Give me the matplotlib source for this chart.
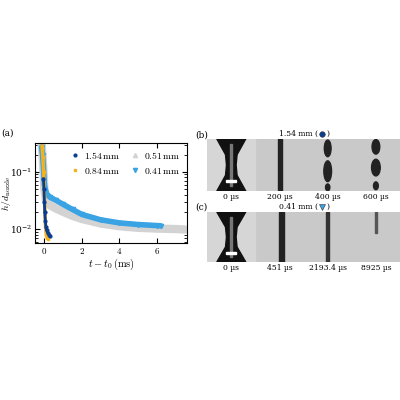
import numpy as np
import matplotlib
matplotlib.use("Agg")
import matplotlib.pyplot as plt
from matplotlib.patches import Ellipse, Rectangle, Polygon

plt.rcParams['mathtext.fontset'] = 'cm'
plt.rcParams['font.family'] = 'serif'
plt.rcParams['font.serif'] = ['DejaVu Serif']
plt.rcParams['font.size'] = 6

# thinning data h/d_nozzle vs t - t0 (ms)
t_154 = [-0.05, -0.02, 0.0, 0.02, 0.05, 0.08, 0.12, 0.18, 0.25, 0.3]
h_154 = [0.075, 0.05, 0.03, 0.02, 0.014, 0.011, 0.0095, 0.0085, 0.008, 0.0075]
t_084 = [-0.12, -0.08, -0.04, 0.0, 0.03, 0.06, 0.1, 0.15, 0.2]
h_084 = [0.28, 0.18, 0.1, 0.04, 0.02, 0.011, 0.008, 0.007, 0.0068]
t_051 = [-0.15, -0.1, -0.05, 0.0, 0.1, 0.3, 0.6, 1.0, 1.5, 2.0, 3.0, 4.0, 5.0, 6.0, 7.0, 7.5]
h_051 = [0.3, 0.2, 0.1, 0.05, 0.03, 0.026, 0.023, 0.02, 0.017, 0.015, 0.0125, 0.0112, 0.0105, 0.0102, 0.01, 0.0098]
t_041 = [-0.15, -0.1, -0.05, 0.0, 0.1, 0.3, 0.6, 1.0, 1.5, 2.0, 3.0, 4.0, 5.0, 6.0, 6.2]
h_041 = [0.27, 0.2, 0.12, 0.06, 0.042, 0.036, 0.032, 0.027, 0.022, 0.018, 0.0145, 0.0128, 0.012, 0.0115, 0.0114]

labels_b = ['0 µs', '200 µs', '400 µs', '600 µs']
labels_c = ['0 µs', '451 µs', '2193.4 µs', '8925 µs']

c154 = '#0a3d91'
c084 = '#f5b21b'
c051 = '#d3d3d3'
c041 = '#3aa3e3'

fig = plt.figure(figsize=(4, 4), dpi=100)
ax = fig.add_axes([0.0875, 0.3925, 0.38, 0.25])
l051, = ax.plot(t_051, h_051, color=c051, lw=6, marker='^', ms=3, solid_capstyle='round')
l041, = ax.plot(t_041, h_041, color=c041, lw=4, marker='v', ms=3, solid_capstyle='round')
l084, = ax.plot(t_084, h_084, color=c084, lw=2.5, marker='s', ms=2)
l154, = ax.plot(t_154, h_154, color=c154, lw=2, marker='o', ms=2)
ax.set_yscale('log')
ax.set_xlim(-0.5, 7.6)
ax.set_ylim(5.7e-3, 0.32)
ax.set_xticks([0, 2, 4, 6])
ax.set_xticklabels(['$0$', '$2$', '$4$', '$6$'])
ax.tick_params(which='both', direction='in', top=True, right=True, labelsize=6.5, pad=2)
ax.set_xlabel(r'$t-t_0\,(\mathrm{ms})$', fontsize=7.5, labelpad=1)
ax.set_ylabel(r'$h/d_\mathrm{nozzle}$', fontsize=7)
ax.yaxis.set_label_coords(-0.145, 0.5)
leg = ax.legend([l154, l084, l051, l041],
                [r'$1.54\,\mathrm{mm}$', r'$0.84\,\mathrm{mm}$', r'$0.51\,\mathrm{mm}$', r'$0.41\,\mathrm{mm}$'],
                ncol=2, loc='upper right', frameon=False, fontsize=7, handlelength=0.6,
                columnspacing=1.2, handletextpad=0.6, borderaxespad=0.3)
for lh in leg.get_lines():
    lh.set_linestyle('none')
fig.text(0.003, 0.66, '(a)', fontsize=6.5)


def strip(rect, labels, kind, title, mk, mc):
    a = fig.add_axes(rect)
    a.set_xlim(0, 4)
    a.set_ylim(0, 1)
    a.axis('off')
    a.add_patch(Rectangle((0, 0), 4, 1, color='#c9c9c9', zorder=0))
    a.add_patch(Rectangle((0, 0), 1, 1, color='#d6d6d6', zorder=0))
    # frame 0: liquid bridge
    a.add_patch(Polygon([(0.2, 1), (0.8, 1), (0.62, 0.7), (0.6, 0.5), (0.62, 0.3), (0.8, 0), (0.2, 0),
                         (0.38, 0.3), (0.4, 0.5), (0.38, 0.7)], color='#111111'))
    a.add_patch(Rectangle((0.48, 0.1), 0.04, 0.8, color='#777777'))
    a.add_patch(Rectangle((0.4, 0.17), 0.2, 0.04, color='white'))
    for i, s in enumerate(labels):
        a.text(i + 0.5, -0.03, s, ha='center', va='top', fontsize=5.5)
    a.text(2.3, 1.02, title, ha='right', va='bottom', fontsize=5.5)
    a.plot([2.39], [1.1], marker=mk, ms=4, color=mc, mec='#333333', mew=0.4, clip_on=False)
    a.text(2.47, 1.02, ')', ha='left', va='bottom', fontsize=5.5)
    if kind == 'b':
        a.add_patch(Rectangle((1.47, 0), 0.09, 1, color='#222222'))
        for y, w, hh in [(0.82, 0.14, 0.32), (0.38, 0.16, 0.4), (0.07, 0.09, 0.13)]:
            a.add_patch(Ellipse((2.5, y), w, hh, color='#222222'))
        for y, w, hh in [(0.85, 0.16, 0.28), (0.45, 0.18, 0.32), (0.1, 0.1, 0.15)]:
            a.add_patch(Ellipse((3.5, y), w, hh, color='#222222'))
    else:
        a.add_patch(Rectangle((1.49, 0), 0.1, 1, color='#222222'))
        a.add_patch(Rectangle((2.47, 0), 0.06, 1, color='#333333'))
        a.add_patch(Rectangle((3.49, 0.58), 0.03, 0.42, color='#555555'))
    return a


strip([0.518, 0.5225, 0.482, 0.13], labels_b, 'b', '1.54 mm (', 'o', c154)
strip([0.518, 0.345, 0.482, 0.125], labels_c, 'c', '0.41 mm (', 'v', c041)
fig.text(0.488, 0.655, '(b)', fontsize=6.5)
fig.text(0.488, 0.475, '(c)', fontsize=6.5)

fig.savefig('out.png', dpi=100)
